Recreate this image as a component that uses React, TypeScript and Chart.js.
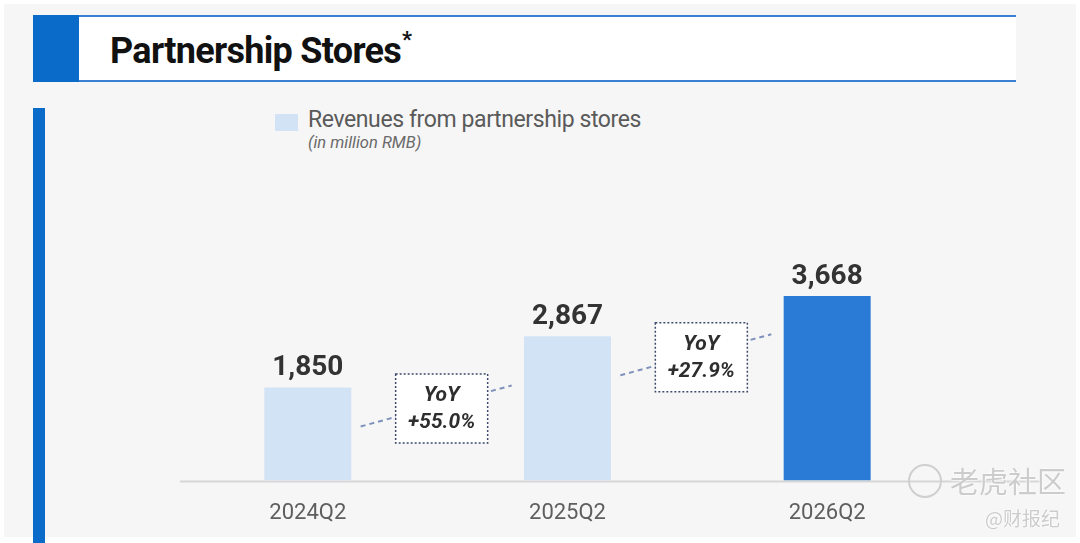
import React, { useEffect, useRef } from "react";
import { Chart, registerables } from "chart.js";

Chart.register(...registerables);

const categories = ["2024Q2", "2025Q2", "2026Q2"];
const revenues = [1850, 2867, 3668];
const valueLabels = ["1,850", "2,867", "3,668"];
const yoyLabels = ["+55.0%", "+27.9%"];
const barColors = ["#d3e3f6", "#d3e3f6", "#2a7bd6"];

const FONT = "Roboto, 'Noto Sans', sans-serif";

const overlayPlugin = {
  id: "overlay",
  beforeDatasetsDraw(chart: any) {
    const ctx = chart.ctx;
    const y0 = chart.scales.y.getPixelForValue(0);
    ctx.save();
    ctx.strokeStyle = "#d6d6d6";
    ctx.lineWidth = 2;
    ctx.beginPath();
    ctx.moveTo(chart.chartArea.left + 2, y0 + 1);
    ctx.lineTo(chart.chartArea.right + 85, y0 + 1);
    ctx.stroke();
    ctx.restore();
  },
  afterDatasetsDraw(chart: any) {
    const ctx = chart.ctx;
    const meta = chart.getDatasetMeta(0);
    ctx.save();
    // value labels
    ctx.fillStyle = "#333333";
    ctx.font = `bold 28px ${FONT}`;
    ctx.textAlign = "center";
    ctx.textBaseline = "alphabetic";
    meta.data.forEach((bar: any, i: number) => {
      ctx.fillText(valueLabels[i], bar.x, bar.y - 12);
    });
    // YoY boxes
    for (let i = 0; i < yoyLabels.length; i++) {
      const b0 = meta.data[i];
      const b1 = meta.data[i + 1];
      const cx = (b0.x + b1.x) / 2 + 4;
      const cy = b0.y + 21;
      // connector
      ctx.strokeStyle = "#7f92bb";
      ctx.lineWidth = 2;
      ctx.setLineDash([5, 4]);
      ctx.beginPath();
      ctx.moveTo(cx - 81, cy + 18);
      ctx.lineTo(cx + 70, cy - 23);
      ctx.stroke();
      // box
      const w = 92, h = 69;
      ctx.setLineDash([]);
      ctx.fillStyle = "#ffffff";
      ctx.fillRect(cx - w / 2, cy - h / 2, w, h);
      ctx.strokeStyle = "#3d4b6d";
      ctx.lineWidth = 1.5;
      ctx.setLineDash([2, 2]);
      ctx.strokeRect(cx - w / 2, cy - h / 2, w, h);
      ctx.setLineDash([]);
      ctx.fillStyle = "#2e2e2e";
      ctx.font = `italic bold 21px ${FONT}`;
      ctx.textBaseline = "middle";
      ctx.fillText("YoY", cx, cy - 13);
      ctx.fillText(yoyLabels[i], cx, cy + 14);
      ctx.textBaseline = "alphabetic";
    }
    ctx.restore();
  },
};

function RevenueChart() {
  const ref = useRef<HTMLCanvasElement | null>(null);
  useEffect(() => {
    if (!ref.current) return;
    const chart = new Chart(ref.current, {
      type: "bar",
      data: {
        labels: categories,
        datasets: [
          {
            label: "Revenues from partnership stores",
            data: revenues,
            backgroundColor: barColors,
            borderWidth: 0,
            barPercentage: 0.335,
            categoryPercentage: 1,
          },
        ],
      },
      options: {
        animation: false,
        responsive: false,
        layout: { padding: { left: 178, right: 123, top: 120, bottom: 0 } },
        plugins: {
          legend: { display: false },
          tooltip: { enabled: false },
        },
        scales: {
          x: {
            grid: { display: false, drawTicks: false },
            border: { display: false },
            ticks: {
              color: "#5e5e5e",
              font: { family: FONT, size: 22 },
              padding: 20,
            },
          },
          y: {
            display: false,
            min: 0,
            max: 7163,
          },
        },
      },
      plugins: [overlayPlugin],
    });
    return () => chart.destroy();
  }, []);
  return (
    <canvas
      ref={ref}
      width={1080}
      height={547}
      style={{ position: "absolute", left: 0, top: 0, width: 1080, height: 547 }}
    />
  );
}

export default function App() {
  return (
    <div
      style={{
        position: "fixed",
        left: 0,
        top: 0,
        width: 1080,
        height: 543,
        background: "#ffffff",
        overflow: "hidden",
        fontFamily: FONT,
      }}
    >
      <div style={{ position: "absolute", left: 4, top: 4, width: 1072, height: 533, background: "#f6f6f6" }} />
      {/* title box */}
      <div
        style={{
          position: "absolute",
          left: 79,
          top: 15,
          width: 937,
          height: 63,
          background: "#ffffff",
          borderTop: "2px solid #3b80d2",
          borderBottom: "2px solid #3b80d2",
        }}
      />
      <div style={{ position: "absolute", left: 33, top: 15, width: 46, height: 67, background: "#0a6cc8" }} />
      <div
        style={{
          position: "absolute",
          left: 110,
          top: 30,
          fontSize: 36,
          lineHeight: "42px",
          fontWeight: 700,
          color: "#111111",
          letterSpacing: -0.7,
          whiteSpace: "nowrap",
        }}
      >
        Partnership Stores
        <span style={{ fontSize: 22, verticalAlign: "top", position: "relative", top: -11, marginLeft: 1 }}>*</span>
      </div>
      {/* left vertical bar */}
      <div style={{ position: "absolute", left: 33, top: 108, width: 12, height: 435, background: "#0a6cc8" }} />
      {/* legend */}
      <div style={{ position: "absolute", left: 275, top: 114, width: 23, height: 17, background: "#d3e3f6" }} />
      <div
        style={{
          position: "absolute",
          left: 308,
          top: 106,
          fontSize: 23,
          lineHeight: "28px",
          color: "#5a5a5a",
          letterSpacing: -0.4,
          whiteSpace: "nowrap",
        }}
      >
        Revenues from partnership stores
      </div>
      <div
        style={{
          position: "absolute",
          left: 308,
          top: 133,
          fontSize: 16.5,
          lineHeight: "20px",
          fontStyle: "italic",
          color: "#6a6a6a",
          whiteSpace: "nowrap",
        }}
      >
        (in million RMB)
      </div>
      <RevenueChart />
      {/* watermark */}
      <div
        style={{
          position: "absolute",
          left: 908,
          top: 464,
          width: 30,
          height: 30,
          borderRadius: "50%",
          border: "2px solid #cfcfcf",
        }}
      />
      <div
        style={{
          position: "absolute",
          left: 950,
          top: 460,
          fontSize: 29,
          lineHeight: "40px",
          color: "#cccccc",
          fontFamily: "'Noto Sans CJK SC', sans-serif",
          textShadow: "0 0 2px #ffffff, 0 0 2px #ffffff",
          whiteSpace: "nowrap",
        }}
      >
        老虎社区
      </div>
      <div
        style={{
          position: "absolute",
          left: 985,
          top: 504,
          fontSize: 19,
          lineHeight: "28px",
          color: "#cccccc",
          fontFamily: "'Noto Sans CJK SC', sans-serif",
          textShadow: "0 0 2px #ffffff, 0 0 2px #ffffff",
          whiteSpace: "nowrap",
        }}
      >
        @财报纪
      </div>
    </div>
  );
}
